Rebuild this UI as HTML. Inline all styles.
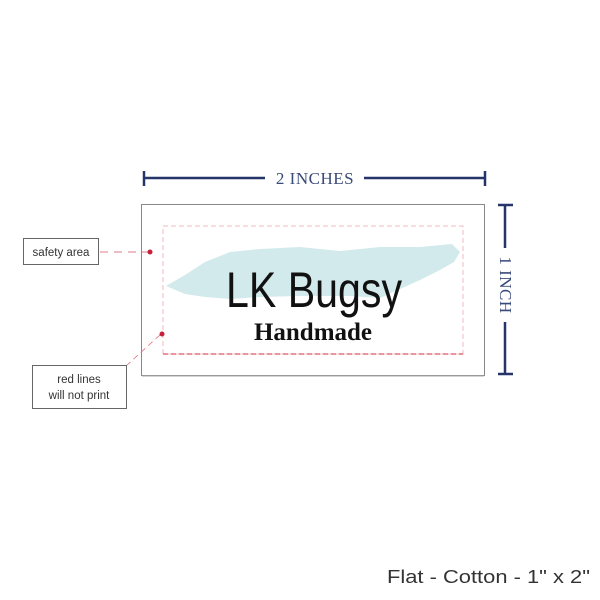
<!DOCTYPE html>
<html><head><style>
body{margin:0;background:#fff;width:600px;height:600px;overflow:hidden;position:relative;font-family:"Liberation Sans",sans-serif}
</style></head><body>
<svg width="600" height="600" style="position:absolute;left:0;top:0">
<g stroke="#25356a" stroke-width="2.5" fill="none">
<line x1="144" y1="178" x2="265" y2="178"/><line x1="364" y1="178" x2="485" y2="178"/>
<line x1="144" y1="171" x2="144" y2="186"/><line x1="485" y1="171" x2="485" y2="186"/>
<line x1="505" y1="205" x2="505" y2="248"/><line x1="505" y1="322" x2="505" y2="374"/>
<line x1="498" y1="205" x2="513" y2="205"/><line x1="498" y1="374" x2="513" y2="374"/>
</g>
<text x="315" y="184" text-anchor="middle" font-family="Liberation Serif,serif" font-size="17" fill="#3a4a7a" letter-spacing="0.5">2 INCHES</text>
<text transform="translate(500,285) rotate(90)" text-anchor="middle" font-family="Liberation Serif,serif" font-size="17" fill="#3a4a7a" letter-spacing="0.5">1 INCH</text>
<rect x="141.5" y="204.5" width="343" height="171" fill="#fff" stroke="#888" stroke-width="1"/>
<line x1="142" y1="376" x2="484" y2="376" stroke="#aaa" stroke-width="1"/>
<polygon points="166,286 185,275 205,262 230,252 260,249 300,247 340,251 380,247 420,247 452,244 460,252 454,262 440,270 420,280 400,289 380,298 350,296 300,296 260,297 230,299 205,297 185,294" fill="#d3eaec"/>
<rect x="163" y="226" width="300" height="128" fill="none" stroke="#f2b8bf" stroke-width="1" stroke-dasharray="5,3"/>
<line x1="163" y1="354" x2="463" y2="354" stroke="#d8283c" stroke-width="1" stroke-dasharray="5,3"/>
<text x="314" y="307" text-anchor="middle" font-family="Liberation Sans Narrow,Liberation Sans,sans-serif" font-size="50" fill="#111" textLength="176" lengthAdjust="spacingAndGlyphs">LK Bugsy</text>
<text x="313" y="340" text-anchor="middle" font-family="Liberation Serif,serif" font-weight="bold" font-size="25" fill="#111">Handmade</text>
<line x1="100" y1="252" x2="150" y2="252" stroke="#e9a9b0" stroke-width="1.5" stroke-dasharray="8,6"/>
<circle cx="150" cy="252" r="2.5" fill="#c8203a"/>
<line x1="126" y1="366" x2="161" y2="334" stroke="#e07080" stroke-width="0.8" stroke-dasharray="6,4"/>
<circle cx="162" cy="334" r="2.5" fill="#c8203a"/>
<rect x="23.5" y="238.5" width="75" height="26" fill="#fff" stroke="#666"/>
<text x="61" y="256" text-anchor="middle" font-size="11.5" fill="#333">safety area</text>
<rect x="32.5" y="365.5" width="94" height="43" fill="#fff" stroke="#666"/>
<text x="79" y="383" text-anchor="middle" font-size="11.5" fill="#333">red lines</text>
<text x="79" y="399" text-anchor="middle" font-size="11.5" fill="#333">will not print</text>
<text x="590" y="583" text-anchor="end" font-size="18" fill="#333" textLength="203" lengthAdjust="spacingAndGlyphs">Flat - Cotton - 1" x 2"</text>
</svg>
</body></html>
